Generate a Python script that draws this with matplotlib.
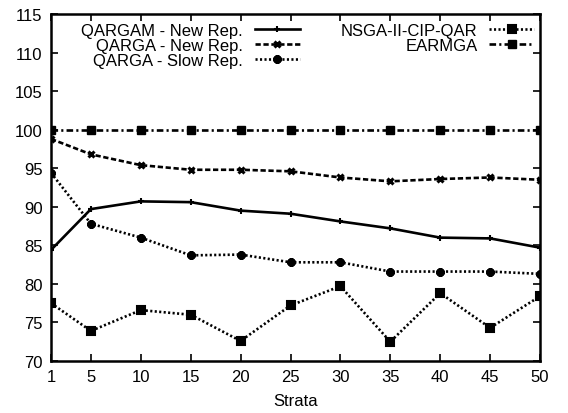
import matplotlib
matplotlib.use("Agg")
import matplotlib.pyplot as plt
import numpy as np

# data
strata = [1, 5, 10, 15, 20, 25, 30, 35, 40, 45, 50]
qargam_new = [84.4, 89.7, 90.7, 90.6, 89.5, 89.1, 88.1, 87.2, 86.0, 85.9, 84.7]
qarga_new = [98.8, 96.8, 95.4, 94.8, 94.8, 94.6, 93.8, 93.3, 93.6, 93.8, 93.5]
qarga_slow = [94.4, 87.8, 86.0, 83.7, 83.8, 82.8, 82.8, 81.6, 81.6, 81.6, 81.3]
nsga = [77.5, 73.9, 76.6, 76.0, 72.6, 77.2, 79.7, 72.5, 78.8, 74.3, 78.4]
earmga = [100, 100, 100, 100, 100, 100, 100, 100, 100, 100, 100]

yticks = list(range(70, 116, 5))

plt.rcParams["font.family"] = ["Liberation Sans", "DejaVu Sans"]
FS = 12

fig = plt.figure(figsize=(5.68, 4.14), dpi=100)
ax = fig.add_axes([51 / 568, 1 - 362 / 414, 489 / 568, 347 / 414])

lw = 1.9
h1, = ax.plot(strata, qargam_new, color="black", lw=lw, ls="-",
              marker="+", ms=5, mew=1.5, label="QARGAM - New Rep.")
h2, = ax.plot(strata, qarga_new, color="black", lw=lw, ls=(0, (2, 1)),
              marker="x", ms=5, mew=2.2, label="QARGA - New Rep.")
h3, = ax.plot(strata, qarga_slow, color="black", lw=lw, ls=(0, (0.8, 0.9)),
              marker=(8, 2, 0), ms=6, mew=2.2, label="QARGA - Slow Rep.")
h4, = ax.plot(strata, nsga, color="black", lw=lw, ls=(0, (0.8, 0.9)),
              marker="s", ms=5.5, mew=1.5, mfc="black", mec="black",
              label="NSGA-II-CIP-QAR")
h5, = ax.plot(strata, earmga, color="black", lw=lw, ls=(0, (2.5, 1.2, 0.8, 1.2)),
              marker="s", ms=5.5, mfc="black", mec="black", label="EARMGA")

ax.set_xlim(1, 50)
ax.set_ylim(70, 115)
ax.set_xticks(strata)
ax.set_yticks(yticks)
ax.tick_params(direction="in", length=5, width=1.2, top=True, right=True,
               labelsize=FS, pad=6)
for s in ax.spines.values():
    s.set_linewidth(1.8)
ax.set_xlabel("Strata", fontsize=FS, labelpad=6)

leg_kw = dict(frameon=False, markerfirst=False, fontsize=FS, handlelength=2.7,
              handletextpad=0.7, labelspacing=0.0, borderaxespad=0, borderpad=0.2)
leg1 = ax.legend(handles=[h1, h2, h3], loc="upper right",
                 bbox_to_anchor=(0.515, 0.985), **leg_kw)
ax.add_artist(leg1)
ax.legend(handles=[h4, h5], loc="upper right",
          bbox_to_anchor=(0.995, 0.985), **leg_kw)

fig.savefig("out.png", dpi=100)
